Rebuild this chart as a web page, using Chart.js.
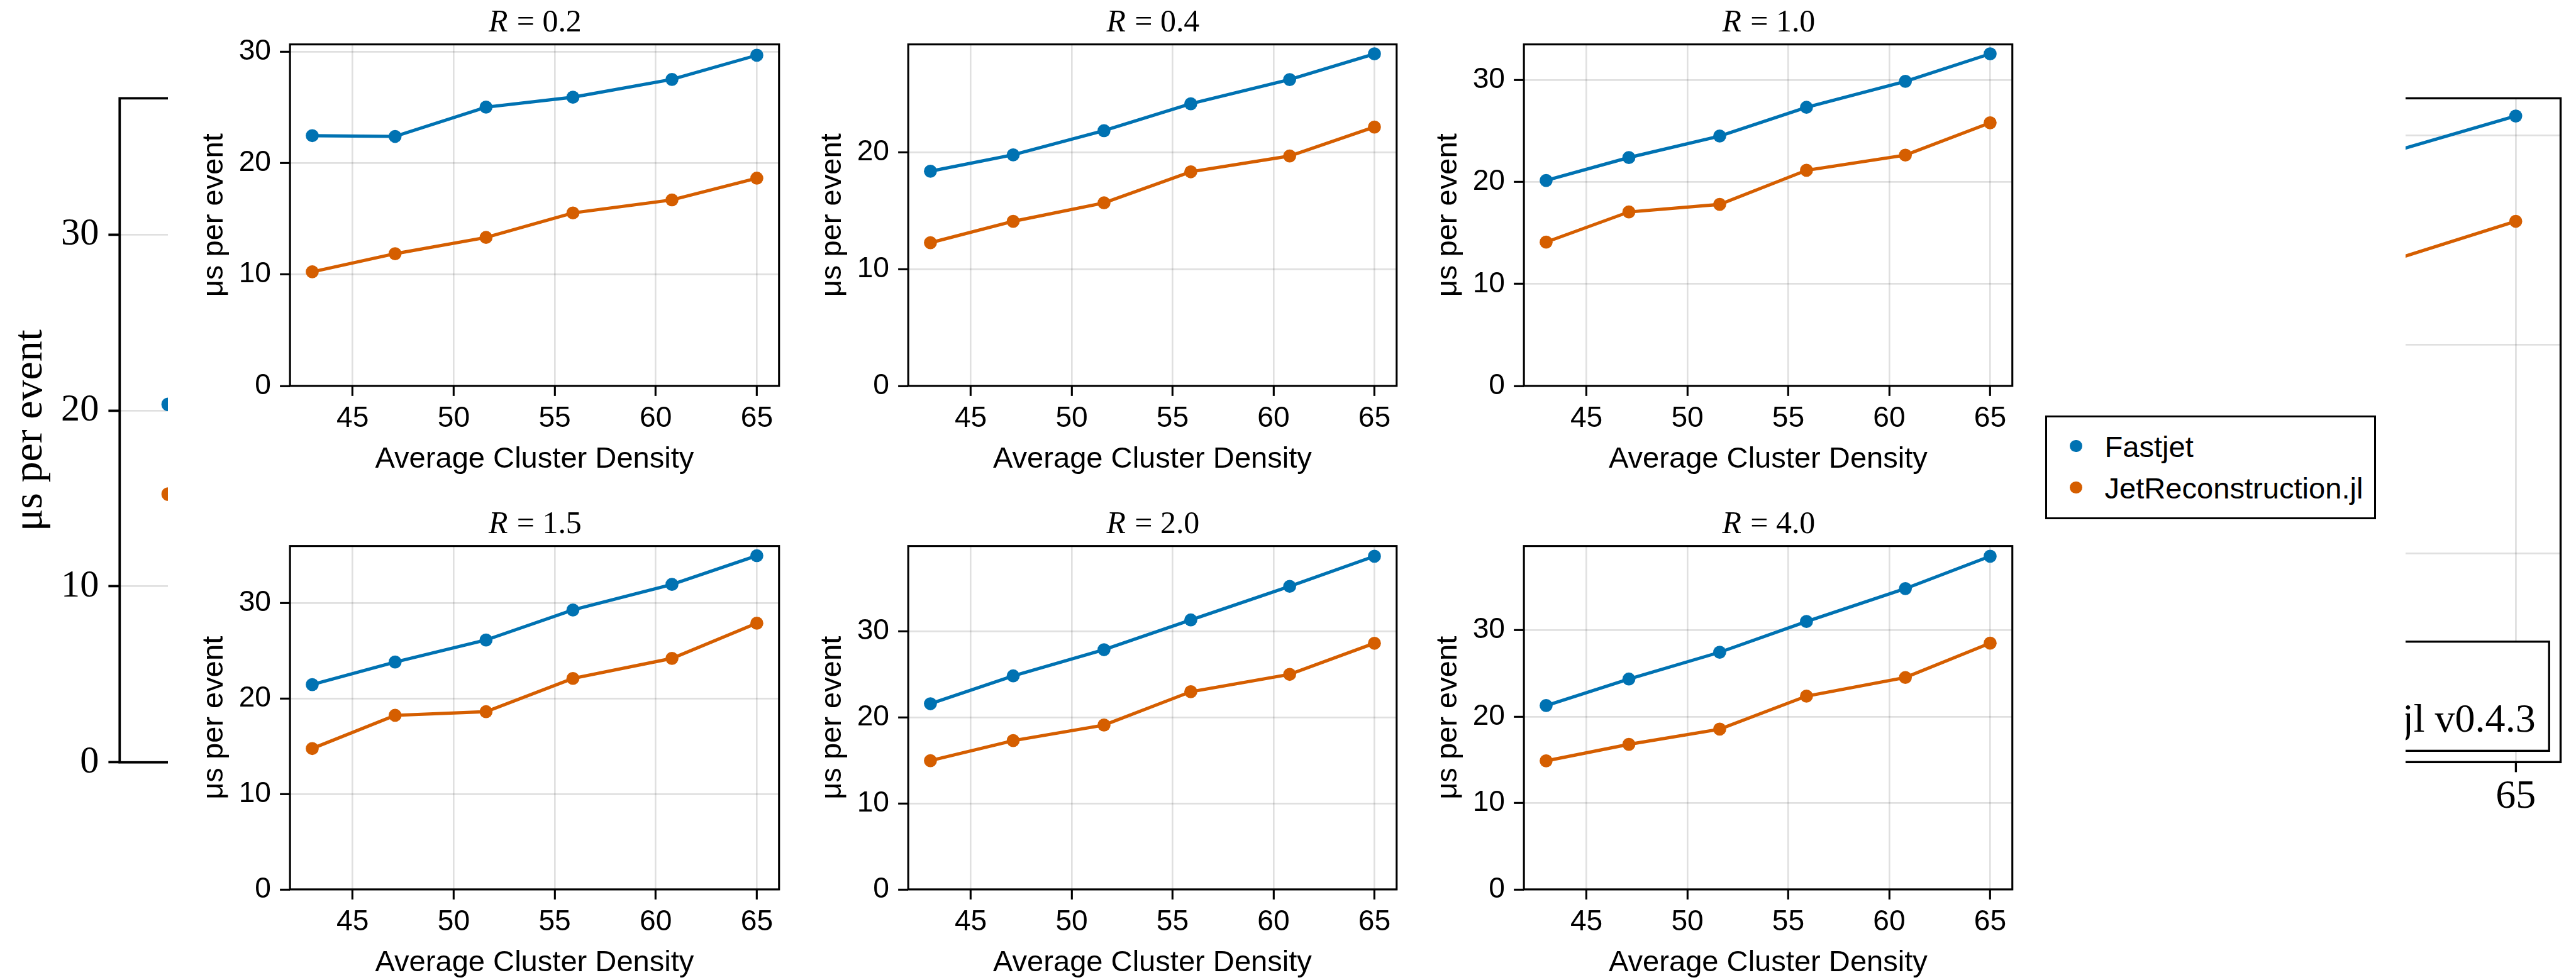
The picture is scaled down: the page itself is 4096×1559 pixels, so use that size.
<!DOCTYPE html>
<html>
<head>
<meta charset="utf-8">
<script src="https://cdn.jsdelivr.net/npm/chart.js@4.4.1/dist/chart.umd.min.js"></script>
<style>
html,body{margin:0;padding:0;background:#ffffff;}
body{width:4096px;height:1559px;overflow:hidden;position:relative;}
</style>
</head>
<body>
<script>
// ---------------- data ----------------
const densities = [43.0, 47.1, 51.6, 55.9, 60.8, 65.0];
const radiusLabels = ['0.2', '0.4', '1.0', '1.5', '2.0', '4.0'];
const seriesNames = ['Fastjet', 'JetReconstruction.jl'];

const fastjetR02 = [22.47, 22.40, 25.03, 25.92, 27.52, 29.69];
const jetrecoR02 = [10.24, 11.87, 13.33, 15.53, 16.70, 18.65];
const fastjetR04 = [18.37, 19.77, 21.84, 24.14, 26.21, 28.41];
const jetrecoR04 = [12.25, 14.08, 15.66, 18.32, 19.67, 22.15];
const fastjetR10 = [20.16, 22.41, 24.52, 27.34, 29.89, 32.59];
const jetrecoR10 = [14.11, 17.07, 17.81, 21.16, 22.65, 25.82];
const fastjetR15 = [21.47, 23.84, 26.15, 29.30, 31.98, 34.99];
const jetrecoR15 = [14.77, 18.25, 18.63, 22.12, 24.22, 27.91];
const fastjetR20 = [21.60, 24.84, 27.89, 31.35, 35.26, 38.76];
const jetrecoR20 = [14.98, 17.31, 19.12, 23.00, 25.02, 28.64];
const fastjetR40 = [21.28, 24.35, 27.45, 31.01, 34.82, 38.56];
const jetrecoR40 = [14.88, 16.79, 18.55, 22.37, 24.53, 28.50];

const xTickValues = [45, 50, 55, 60, 65];
const yTickValues = [0, 10, 20, 30];

// partially hidden background figure
const bgLeftX = [43.0];
const bgLeftFastjet = [20.35];
const bgLeftJet = [15.25];
const bgLeftYLimits = [0, 37.75];
const bgLeftYTicks = [0, 10, 20, 30];
const bgRightX = [60.8, 65.0];
const bgRightFastjet = [28.56, 30.94];
const bgRightJet = [23.31, 25.90];
const bgRightYLimits = [0, 31.79];
const bgRightYTicks = [0, 10, 20, 30];
const bgRightXTicks = [45, 50, 55, 60, 65];
const bgLegendText = 'jl v0.4.3';

// ---------------- rendering ----------------
const S = 0.942;
const P = v => v * S;
const SANS = '"Liberation Sans", Arial, sans-serif';
const SERIF = '"Liberation Serif", "Times New Roman", serif';
const BLUE = '#0072B2', ORANGE = '#D55E00';
const GRID = 'rgba(0,0,0,0.12)';

const dLo = Math.min(...densities), dHi = Math.max(...densities);
const xMin = dLo - 0.05 * (dHi - dLo), xMax = dHi + 0.05 * (dHi - dLo);

Chart.defaults.color = '#000';
Chart.defaults.font.family = SANS;

const framePlugin = {
  id: 'frame',
  afterDatasetsDraw(chart, args, opts) {
    const {ctx, chartArea: a} = chart;
    ctx.save();
    ctx.strokeStyle = '#000';
    ctx.lineWidth = opts.width || 3;
    ctx.strokeRect(a.left, a.top, a.right - a.left, a.bottom - a.top);
    ctx.restore();
  }
};

const titlePlugin = {
  id: 'rtitle',
  afterDraw(chart, args, o) {
    if (!o.value) return;
    const {ctx, chartArea: a} = chart;
    const cx = (a.left + a.right) / 2, y = a.top - o.gap;
    const f1 = `italic ${o.size}px ${SERIF}`, f2 = `${o.size}px ${SERIF}`;
    const rest = ' = ' + o.value;
    ctx.save();
    ctx.fillStyle = '#000';
    ctx.textBaseline = 'alphabetic';
    ctx.textAlign = 'left';
    ctx.font = f1; const w1 = ctx.measureText('R').width;
    ctx.font = f2; const w2 = ctx.measureText(rest).width;
    const x0 = cx - (w1 + w2) / 2;
    ctx.font = f1; ctx.fillText('R', x0, y);
    ctx.font = f2; ctx.fillText(rest, x0 + w1 + P(2), y);
    ctx.restore();
  }
};

const bgLegendPlugin = {
  id: 'bgLegend',
  afterDraw(chart, args, o) {
    if (!o.text) return;
    const {ctx, chartArea: a} = chart;
    const right = a.right - P(4322 - 4302.6);
    const top = a.top + P(1083.6 - 166), bottom = a.top + P(1267.9 - 166);
    const left = right - P(700);
    ctx.save();
    ctx.fillStyle = '#fff';
    ctx.fillRect(left, top, right - left, bottom - top);
    ctx.lineWidth = P(3.5);
    ctx.strokeStyle = '#000';
    ctx.strokeRect(left, top, right - left, bottom - top);
    ctx.font = `${P(68)}px ${SERIF}`;
    ctx.fillStyle = '#000';
    ctx.textAlign = 'right';
    ctx.textBaseline = 'alphabetic';
    ctx.fillText(o.text, a.right - P(4322 - 4279.7), a.top + P(1236 - 166));
    ctx.restore();
  }
};

function addCanvas(parent, left, top, w, h) {
  const c = document.createElement('canvas');
  const W = Math.round(w), H = Math.round(h);
  c.width = W; c.height = H;
  c.style.cssText = `position:absolute;left:${Math.round(left)}px;top:${Math.round(top)}px;width:${W}px;height:${H}px;`;
  parent.appendChild(c);
  return c;
}
function addDiv(css) {
  const d = document.createElement('div');
  d.style.cssText = css;
  document.body.appendChild(d);
  return d;
}
function dataset(label, xs, ys, color, radius, width) {
  return {
    label, data: xs.map((x, k) => ({x, y: ys[k]})), showLine: true,
    borderColor: color, backgroundColor: color, pointBackgroundColor: color,
    pointBorderColor: color, pointBorderWidth: 0, pointRadius: radius, pointHoverRadius: radius,
    borderWidth: width, tension: 0, fill: false
  };
}
const baseOpts = {responsive: false, animation: false, devicePixelRatio: 1, events: []};

// ---------- background (left piece) ----------
const bgL = addDiv(`position:absolute;left:0;top:0;width:${P(283)}px;height:1559px;overflow:hidden;`);
const cL = addCanvas(bgL, 0, 0, P(2100), P(1655));
new Chart(cL, {
  type: 'scatter',
  data: {datasets: [
    dataset(seriesNames[0], bgLeftX, bgLeftFastjet, BLUE, P(11.5), P(5.5)),
    dataset(seriesNames[1], bgLeftX, bgLeftJet, ORANGE, P(11.5), P(5.5))
  ]},
  options: {
    ...baseOpts,
    layout: {padding: {top: P(166), right: P(2100 - 2006), left: 0, bottom: 0}},
    plugins: {legend: {display: false}, tooltip: {enabled: false}, frame: {width: P(4)}},
    scales: {
      x: {type: 'linear', min: xMin, max: xMax,
          afterBuildTicks: s => { s.ticks = xTickValues.map(v => ({value: v})); },
          afterFit: s => { s.height = P(1655 - 1287.4); },
          border: {display: false}, grid: {color: GRID, lineWidth: P(3), drawTicks: false},
          ticks: {display: false}},
      y: {min: bgLeftYLimits[0], max: bgLeftYLimits[1],
          afterBuildTicks: s => { s.ticks = bgLeftYTicks.map(v => ({value: v})); },
          afterFit: s => { s.width = P(202); },
          border: {display: false},
          grid: {color: GRID, lineWidth: P(3), tickColor: '#000', tickLength: P(19), tickWidth: P(4)},
          ticks: {font: {family: SERIF, size: P(64), lineHeight: 1.2}, color: '#000', padding: P(16)},
          title: {display: true, text: 'μs per event', color: '#000',
                  font: {family: SERIF, size: P(70), lineHeight: 1}, padding: {top: P(17), bottom: 0}}}
    }
  },
  plugins: [framePlugin]
});

// ---------- background (right piece) ----------
const bgR = addDiv(`position:absolute;left:${Math.round(P(4061))}px;top:0;width:${4096 - Math.round(P(4061))}px;height:1559px;overflow:hidden;`);
const cR = addCanvas(bgR, P(2645) - Math.round(P(4061)), 0, P(1703), P(1655));
new Chart(cR, {
  type: 'scatter',
  data: {datasets: [
    dataset(seriesNames[0], bgRightX, bgRightFastjet, BLUE, P(11), P(5.5)),
    dataset(seriesNames[1], bgRightX, bgRightJet, ORANGE, P(11), P(5.5))
  ]},
  options: {
    ...baseOpts,
    layout: {padding: {top: P(166), right: P(26), left: 0, bottom: 0}},
    plugins: {legend: {display: false}, tooltip: {enabled: false}, frame: {width: P(3.6)},
              bgLegend: {text: bgLegendText}},
    scales: {
      x: {type: 'linear', min: xMin, max: xMax,
          afterBuildTicks: s => { s.ticks = bgRightXTicks.map(v => ({value: v})); },
          afterFit: s => { s.height = P(1655 - 1287); },
          border: {display: false},
          grid: {color: GRID, lineWidth: P(3), tickColor: '#000', tickLength: P(17), tickWidth: P(3.5)},
          ticks: {font: {family: SERIF, size: P(68), lineHeight: 1.2}, color: '#000', padding: P(2),
                  maxRotation: 0, autoSkip: false}},
      y: {min: bgRightYLimits[0], max: bgRightYLimits[1],
          afterBuildTicks: s => { s.ticks = bgRightYTicks.map(v => ({value: v})); },
          afterFit: s => { s.width = 0; },
          border: {display: false},
          grid: {color: GRID, lineWidth: P(3), drawTicks: false},
          ticks: {display: false}}
    }
  },
  plugins: [framePlugin, bgLegendPlugin]
});

// ---------- cover of the foreground figure ----------
addDiv(`position:absolute;left:${P(283)}px;top:0;width:${P(4061 - 283)}px;height:1559px;background:#fff;`);

// ---------- foreground panels ----------
const panels = [
  {r: radiusLabels[0], fj: fastjetR02, jr: jetrecoR02},
  {r: radiusLabels[1], fj: fastjetR04, jr: jetrecoR04},
  {r: radiusLabels[2], fj: fastjetR10, jr: jetrecoR10},
  {r: radiusLabels[3], fj: fastjetR15, jr: jetrecoR15},
  {r: radiusLabels[4], fj: fastjetR20, jr: jetrecoR20},
  {r: radiusLabels[5], fj: fastjetR40, jr: jetrecoR40}
];
const colL = [490, 1533, 2572], colR = [1315, 2357, 3396];
const rowT = [75, 922], rowB = [651.5, 1502];
const AX_W = 170, AX_H = 153, PAD_T = 75, PAD_R = 30;
const charts = [];

panels.forEach((p, i) => {
  const col = i % 3, row = Math.floor(i / 3);
  const L = colL[col], R = colR[col], T = rowT[row], B = rowB[row];
  const all = p.fj.concat(p.jr);
  const lo = Math.min(...all), hi = Math.max(...all);
  const yMax = hi + 0.05 * (hi - lo);
  const c = addCanvas(document.body, P(L - AX_W), P(T - PAD_T), P(R - L + AX_W + PAD_R), P(B - T + PAD_T + AX_H));
  const ch = new Chart(c, {
    type: 'scatter',
    data: {datasets: [
      dataset(seriesNames[0], densities, p.fj, BLUE, P(11), P(5.5)),
      dataset(seriesNames[1], densities, p.jr, ORANGE, P(11), P(5.5))
    ]},
    options: {
      ...baseOpts,
      layout: {padding: {top: P(PAD_T), right: P(PAD_R), left: 0, bottom: 0}},
      plugins: {legend: {display: false, labels: {usePointStyle: true}}, tooltip: {enabled: false},
                frame: {width: P(3.3)}, rtitle: {value: p.r, size: P(53), gap: P(22)}},
      scales: {
        x: {type: 'linear', min: xMin, max: xMax,
            afterBuildTicks: s => { s.ticks = xTickValues.map(v => ({value: v})); },
            afterFit: s => { s.height = P(AX_H); },
            border: {display: false},
            grid: {color: GRID, lineWidth: P(2.8), tickColor: '#000', tickLength: P(17), tickWidth: P(3.3)},
            ticks: {font: {family: SANS, size: P(49), lineHeight: 1.2}, color: '#000', padding: P(9.6),
                    maxRotation: 0, autoSkip: false},
            title: {display: true, text: 'Average Cluster Density', color: '#000',
                    font: {family: SANS, size: P(50), lineHeight: 1}, padding: {top: 0, bottom: P(4)}}},
        y: {min: 0, max: yMax,
            afterBuildTicks: s => { s.ticks = yTickValues.filter(v => v <= s.max + 1e-9).map(v => ({value: v})); },
            afterFit: s => { s.width = P(AX_W); },
            border: {display: false},
            grid: {color: GRID, lineWidth: P(2.8), tickColor: '#000', tickLength: P(17), tickWidth: P(3.3)},
            ticks: {font: {family: SANS, size: P(49), lineHeight: 1.2}, color: '#000', padding: P(15)},
            title: {display: true, text: 'μs per event', color: '#000',
                    font: {family: SANS, size: P(50), lineHeight: 1}, padding: {top: P(18), bottom: 0}}}
      }
    },
    plugins: [framePlugin, titlePlugin]
  });
  charts.push(ch);
});

// ---------- legend (HTML, built from the chart's legend items) ----------
let items;
try {
  items = charts[0].options.plugins.legend.labels.generateLabels(charts[0]);
} catch (e) {
  items = charts[0].data.datasets.map(d => ({text: d.label, fillStyle: d.backgroundColor}));
}
const bw = P(3.3);
const lg = addDiv(`position:absolute;left:${P(3452)}px;top:${P(701.7)}px;width:${P(559)}px;height:${P(175)}px;border:${bw}px solid #000;box-sizing:border-box;background:#fff;`);
const itemY = [51.6, 121.6];
items.forEach((it, k) => {
  const cy = P(itemY[k]) - bw;
  const dot = document.createElement('span');
  const r = P(10.5);
  dot.style.cssText = `position:absolute;left:${P(52.5) - bw - r}px;top:${cy - r}px;width:${2 * r}px;height:${2 * r}px;border-radius:50%;background:${it.fillStyle};`;
  lg.appendChild(dot);
  const t = document.createElement('span');
  const lh = P(60);
  t.textContent = it.text;
  t.style.cssText = `position:absolute;left:${P(100.7) - bw}px;top:${cy - lh / 2 + P(2)}px;height:${lh}px;line-height:${lh}px;font-family:${SANS};font-size:${P(50)}px;color:#000;white-space:nowrap;`;
  lg.appendChild(t);
});
</script>
</body>
</html>
